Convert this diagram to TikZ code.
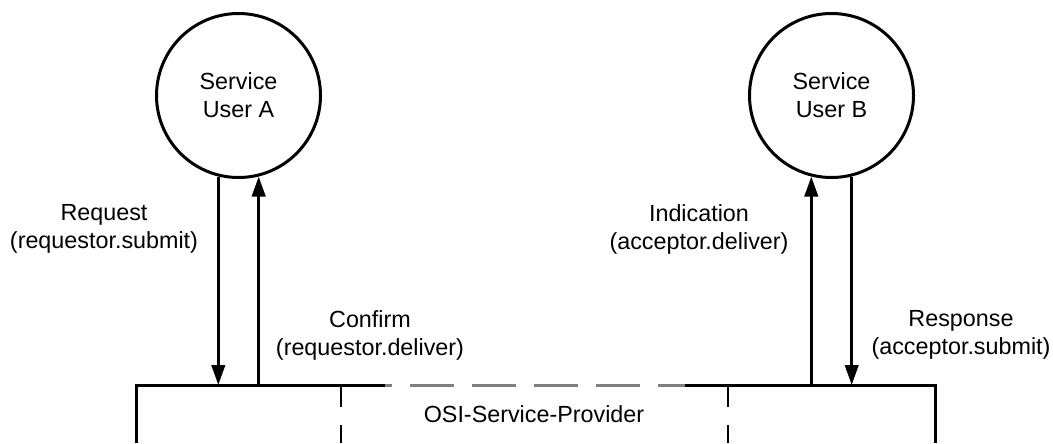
\documentclass[tikz,border=0pt]{standalone}
\usepackage{fontspec}
\setmainfont{Liberation Sans}
\usetikzlibrary{arrows.meta}
\tikzset{
  user/.style={circle,draw,line width=2.25pt,minimum size=123pt,inner sep=0pt,align=center,font=\fontsize{17.5}{21}\selectfont},
  prim/.style={align=center,font=\fontsize{17.5}{21}\selectfont},
  flow/.style={line width=2.25pt,-{Triangle[length=15pt,width=10pt]}},
  edge/.style={line width=2.25pt},
  split/.style={line width=2pt,dash pattern=on 16.5pt off 13.5pt},
}
\begin{document}
\begin{tikzpicture}[x=0.75pt,y=-0.75pt]
	\useasboundingbox (0,0) rectangle (1053,443);
	% service users
	\node[user] (userA) at (238.5,95.5) {Service\\User A};
	\node[user] (userB) at (831.5,95.5) {Service\\User B};
	\coordinate (top) at (0,385);
	% provider
	\draw[edge] (136,443)--(136,385)--(385,385);
	\draw[edge] (685,385)--(935,385)--(935,443);
	\draw[edge,gray,dash pattern=on 33pt off 13.5pt,dash phase=27.75pt] (385,385)--(685,385);
	\draw[split] (341,385)--(341,443);
	\draw[split] (728,385)--(728,443);
	\node[prim] (provider) at (534,414) {OSI-Service-Provider};
	% primitives
	\draw[flow] (userA.256)--(userA.256 |- top);
	\draw[flow] (userA.284 |- top)--(userA.284);
	\draw[flow] (userB.256 |- top)--(userB.256);
	\draw[flow] (userB.284)--(userB.284 |- top);
	\node[prim] (request) at (104,229) {Request\\(requestor.submit)};
	\node[prim] (confirm) at (370,335) {Confirm\\(requestor.deliver)};
	\node[prim] (indication) at (699,229) {Indication\\(acceptor.deliver)};
	\node[prim] (response) at (961,335) {Response\\(acceptor.submit)};
\end{tikzpicture}
\end{document}
